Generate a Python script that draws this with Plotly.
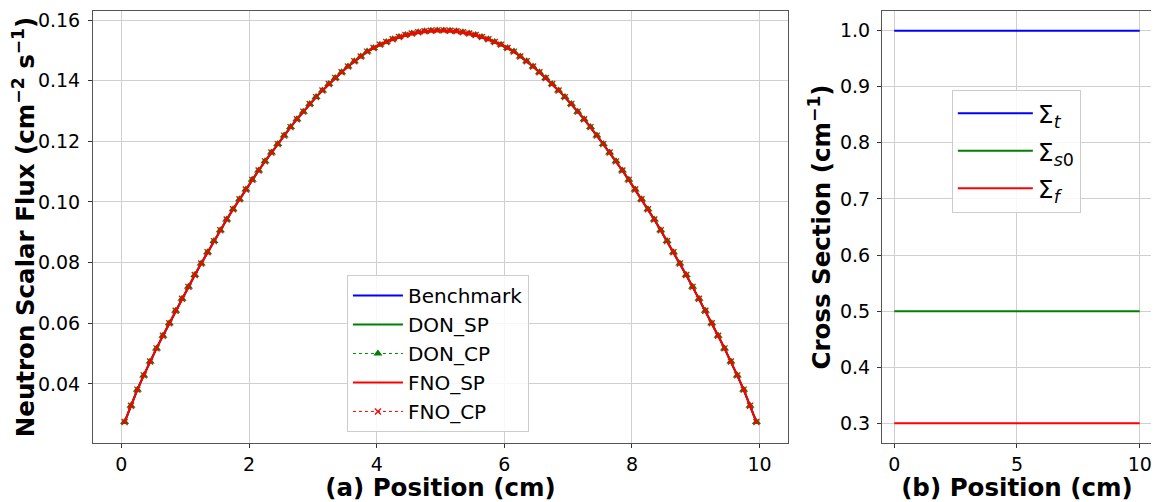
import plotly.graph_objects as go

# ---- data ----
position = [round(0.05 + 0.1 * i, 2) for i in range(100)]

benchmark = [
    0.0274, 0.0328, 0.0381, 0.0428, 0.0474, 0.0517, 0.0559, 0.0600, 0.0641, 0.0681,
    0.0720, 0.0759, 0.0797, 0.0834, 0.0871, 0.0907, 0.0942, 0.0976, 0.1009, 0.1041,
    0.1073, 0.1104, 0.1134, 0.1163, 0.1191, 0.1219, 0.1247, 0.1273, 0.1298, 0.1323,
    0.1346, 0.1368, 0.1389, 0.1409, 0.1428, 0.1447, 0.1464, 0.1480, 0.1496, 0.1508,
    0.1519, 0.1528, 0.1537, 0.1544, 0.1551, 0.1556, 0.1560, 0.1563, 0.1565, 0.1566,
    0.1566, 0.1565, 0.1563, 0.1560, 0.1556, 0.1551, 0.1544, 0.1537, 0.1528, 0.1519,
    0.1508, 0.1496, 0.1480, 0.1464, 0.1447, 0.1428, 0.1409, 0.1389, 0.1368, 0.1346,
    0.1323, 0.1298, 0.1273, 0.1247, 0.1219, 0.1191, 0.1163, 0.1134, 0.1104, 0.1073,
    0.1041, 0.1009, 0.0976, 0.0942, 0.0907, 0.0871, 0.0834, 0.0797, 0.0759, 0.0720,
    0.0681, 0.0641, 0.0600, 0.0559, 0.0517, 0.0474, 0.0428, 0.0381, 0.0328, 0.0274,
]
don_sp = list(benchmark)
don_cp = list(benchmark)
fno_sp = list(benchmark)
fno_cp = list(benchmark)

xs_position = [0, 10]
sigma_t = [1.0, 1.0]
sigma_s0 = [0.5, 0.5]
sigma_f = [0.3, 0.3]

FONT = "DejaVu Sans"
BLUE, GREEN, RED = "#0000ff", "#008000", "#ff0000"

fig = go.Figure()

# ---- left panel ----
fig.add_trace(go.Scatter(x=position, y=benchmark, mode="lines", name="Benchmark",
                         line=dict(color=BLUE, width=2), legend="legend",
                         legendgroup="a1", xaxis="x", yaxis="y"))
fig.add_trace(go.Scatter(x=position, y=don_sp, mode="lines", name="DON_SP",
                         line=dict(color=GREEN, width=2), legend="legend",
                         legendgroup="a2", xaxis="x", yaxis="y"))
fig.add_trace(go.Scatter(x=position, y=don_cp, mode="lines+markers", name="DON_CP",
                         line=dict(color=GREEN, width=1, dash="dot"),
                         marker=dict(symbol="triangle-up", size=8, color=GREEN),
                         legend="legend", legendgroup="a3", xaxis="x", yaxis="y"))
fig.add_trace(go.Scatter(x=position, y=fno_sp, mode="lines", name="FNO_SP",
                         line=dict(color=RED, width=2), legend="legend",
                         legendgroup="a4", xaxis="x", yaxis="y"))
fig.add_trace(go.Scatter(x=position, y=fno_cp, mode="lines+markers", name="FNO_CP",
                         line=dict(color=RED, width=1, dash="dot"),
                         marker=dict(symbol="x-thin", size=6, color=RED,
                                     line=dict(color=RED, width=1.3)),
                         legend="legend", legendgroup="a5", xaxis="x", yaxis="y"))

# ---- right panel ----
fig.add_trace(go.Scatter(x=xs_position, y=sigma_t, mode="lines", name="Σ<sub><i>t</i></sub>",
                         line=dict(color=BLUE, width=2), legend="legend2",
                         legendgroup="b1", xaxis="x2", yaxis="y2"))
fig.add_trace(go.Scatter(x=xs_position, y=sigma_s0, mode="lines", name="Σ<sub><i>s</i>0</sub>",
                         line=dict(color=GREEN, width=2), legend="legend2",
                         legendgroup="b2", xaxis="x2", yaxis="y2"))
fig.add_trace(go.Scatter(x=xs_position, y=sigma_f, mode="lines", name="Σ<sub><i>f</i></sub>",
                         line=dict(color=RED, width=2), legend="legend2",
                         legendgroup="b3", xaxis="x2", yaxis="y2"))

axis_common = dict(showgrid=True, gridcolor="#cfcfcf", gridwidth=1,
                   showline=True, linecolor="#555555", linewidth=1, mirror=True,
                   ticks="outside", ticklen=4, tickcolor="#333333",
                   tickfont=dict(family=FONT, size=19, color="black"),
                   ticklabeloverflow="allow",
                   zeroline=False)
title_font = dict(family=FONT, size=24.5, color="black")

# the page body keeps an 8px margin, so the figure is 8px smaller than the window
fig.update_layout(
    width=1151, height=494,
    margin=dict(l=85, r=7, t=1, b=59),
    paper_bgcolor="white", plot_bgcolor="white",
    font=dict(family=FONT, color="black"),
    xaxis=dict(domain=[0, 0.6563], range=[-0.445, 10.445], tickvals=[0, 2, 4, 6, 8, 10],
               title=dict(text="<b>(a) Position (cm)</b>", font=title_font, standoff=4),
               anchor="y", **axis_common),
    yaxis=dict(domain=[0, 1], range=[0.0205, 0.163],
               tickvals=[0.04, 0.06, 0.08, 0.10, 0.12, 0.14, 0.16],
               ticktext=["0.04", "0.06", "0.08", "0.10", "0.12", "0.14", "0.16"],
               ticklabelstandoff=4,
               title=dict(text="<b>Neutron Scalar Flux (cm<sup>−2</sup> s<sup>−1</sup>)</b>",
                          font=title_font, standoff=1),
               anchor="x", **axis_common),
    xaxis2=dict(domain=[0.745, 1], range=[-0.5, 10.5], tickvals=[0, 5, 10],
                title=dict(text="<b>(b) Position (cm)</b>", font=title_font, standoff=4),
                anchor="y2", **axis_common),
    yaxis2=dict(domain=[0, 1], range=[0.265, 1.035], dtick=0.1, tick0=0, tickformat=".1f",
                ticklabelstandoff=3,
                title=dict(text="<b>Cross Section (cm<sup>−1</sup>)</b>", font=title_font, standoff=2),
                anchor="x2", **axis_common),
    legend=dict(x=0.2398, y=0.389, xanchor="left", yanchor="top",
                bgcolor="rgba(255,255,255,0.85)", bordercolor="#cccccc", borderwidth=1,
                font=dict(family=FONT, size=20, color="black"),
                tracegroupgap=0, itemwidth=50),
    legend2=dict(x=0.811, y=0.818, xanchor="left", yanchor="top",
                 bgcolor="rgba(255,255,255,0.85)", bordercolor="#cccccc", borderwidth=1,
                 font=dict(family=FONT, size=25, color="black"),
                 tracegroupgap=2, itemwidth=75),
    showlegend=True,
)

fig.write_html("out.html")
